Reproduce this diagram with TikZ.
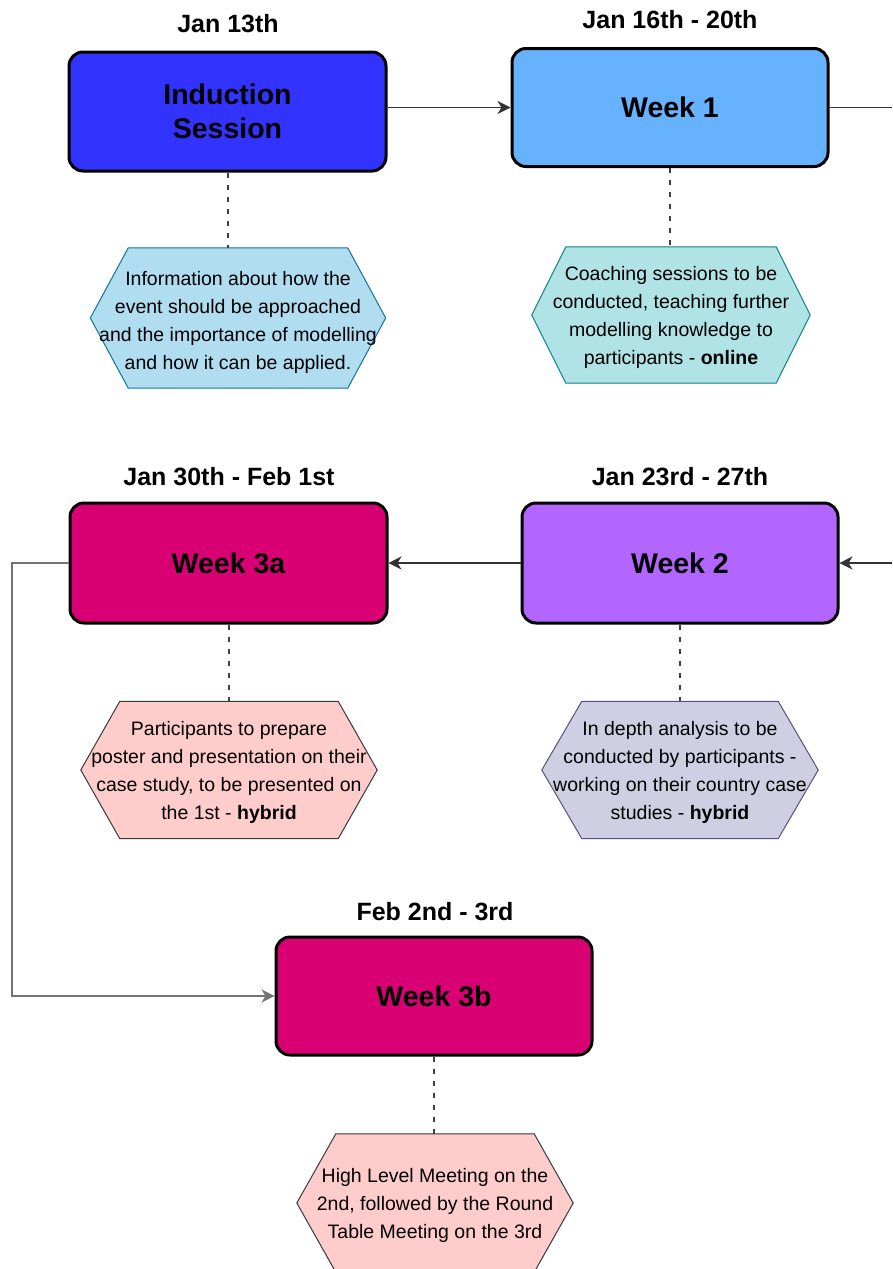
\documentclass[tikz,border=0pt]{standalone}
\usepackage{fontspec}
\setmainfont{Liberation Sans}
\usetikzlibrary{arrows.meta,calc}
\definecolor{cInd}{HTML}{3333FF}
\definecolor{cWone}{HTML}{66B2FF}
\definecolor{cWtwo}{HTML}{B266FF}
\definecolor{cWthree}{HTML}{D80073}
\definecolor{hexA}{HTML}{B1DDF0}
\definecolor{hexAd}{HTML}{10739E}
\definecolor{hexB}{HTML}{B0E3E6}
\definecolor{hexBd}{HTML}{0E8088}
\definecolor{hexC}{HTML}{FFCCCC}
\definecolor{hexCd}{HTML}{36393D}
\definecolor{hexD}{HTML}{D0CEE2}
\definecolor{hexDd}{HTML}{56517E}
\definecolor{lineC}{HTML}{333333}
\newcommand\hexpath[3]{%
  \draw[#3] (#1.north west) -- (#1.north east) -- ($(#1.east)+(#2,0)$) -- (#1.south east) -- (#1.south west) -- ($(#1.west)-(#2,0)$) -- cycle;}
\begin{document}
\begin{tikzpicture}[x=1pt,y=-1pt,
  box/.style={draw=black, line width=3pt, rounded corners=14pt, minimum width=316pt, minimum height=118pt, inner sep=0pt, align=center, font=\fontsize{28.5}{34}\selectfont\bfseries},
  datelbl/.style={inner sep=0pt, font=\fontsize{25}{30}\selectfont\bfseries},
  hexshape/.style={draw=none, inner sep=0pt},
  hextxt/.style={inner sep=0pt, align=center, font=\fontsize{19.5}{28}\selectfont},
  conn/.style={draw=lineC, line width=1.5pt, -{Stealth[length=13pt,width=13pt,inset=4pt]}},
  loopconn/.style={draw=black!55, line width=1.3pt, -{Stealth[length=13pt,width=13pt,inset=4pt]}},
  dashconn/.style={draw=black!75, line width=2pt, dash pattern=on 5pt off 7pt},
  hexline/.style={line width=1pt},
]
\path[use as bounding box] (0,0) rectangle (892,1269);
\clip (0,0) rectangle (892,1269);

% main boxes
\node[box, fill=cInd, minimum width=317pt, minimum height=119pt] (ind) at (227.5,111.5) {Induction\\Session};
\node[box, fill=cWone] (w1) at (670,107.5) {Week 1};
\node[box, fill=cWthree, minimum width=317pt, minimum height=120pt] (w3a) at (228.5,563) {Week 3a};
\node[box, fill=cWtwo, minimum height=120pt] (w2) at (680,563) {Week 2};
\node[box, fill=cWthree] (w3b) at (434,996) {Week 3b};

% date labels
\node[datelbl] (d1) at (228,24) {Jan 13th};
\node[datelbl] (d2) at (670,20) {Jan 16th - 20th};
\node[datelbl] (d3) at (229,477) {Jan 30th - Feb 1st};
\node[datelbl] (d4) at (680,477) {Jan 23rd - 27th};
\node[datelbl] (d5) at (435,912) {Feb 2nd - 3rd};

% hexagons
\node[hexshape, minimum width=219pt, minimum height=140pt] (h1) at (238,318) {};
\hexpath{h1}{38}{hexline, fill=hexA, draw=hexAd}
\node[hextxt] (h1t) at ($(h1)+(0,4)$) {Information about how the\\event should be approached\\and the importance of modelling\\and how it can be applied.};

\node[hexshape, minimum width=210pt, minimum height=136pt] (h2) at (671,315) {};
\hexpath{h2}{34}{hexline, fill=hexB, draw=hexBd}
\node[hextxt] (h2t) at ($(h2)+(0,2)$) {Coaching sessions to be\\conducted, teaching further\\modelling knowledge to\\participants - \textbf{online}};

\node[hexshape, minimum width=218pt, minimum height=137pt] (h3) at (229,770) {};
\hexpath{h3}{39}{hexline, fill=hexC, draw=hexCd}
\node[hextxt] (h3t) at ($(h3)+(0,2)$) {Participants to prepare\\poster and presentation on their\\case study, to be presented on\\the 1st - \textbf{hybrid}};

\node[hexshape, minimum width=196pt, minimum height=137pt] (h4) at (680,770) {};
\hexpath{h4}{40}{hexline, fill=hexD, draw=hexDd}
\node[hextxt] (h4t) at ($(h4)+(0,2)$) {In depth analysis to be\\conducted by participants -\\working on their country case\\studies - \textbf{hybrid}};

\node[hexshape, minimum width=198pt, minimum height=138pt] (h5) at (435,1203) {};
\hexpath{h5}{39}{hexline, fill=hexC, draw=hexCd}
\node[hextxt] (h5t) at ($(h5)+(0,2)$) {High Level Meeting on the\\2nd, followed by the Round\\Table Meeting on the 3rd};

% dashed links
\draw[dashconn] (ind.south) -- (ind.south |- h1.north);
\draw[dashconn] (w1.south) -- (w1.south |- h2.north);
\draw[dashconn] (w3a.south) -- (w3a.south |- h3.north);
\draw[dashconn] (w2.south) -- (w2.south |- h4.north);
\draw[dashconn] (w3b.south) -- (w3b.south |- h5.north);

% flow connectors
\coordinate (offR) at (915,300);
\coordinate (offL) at (12,780);
\draw[conn] (ind.east |- w1.west) -- (w1.west);
\draw[conn] (w1.east) -| (offR) |- (w2.east);
\draw[conn] (w2.west) -- (w3a.east);
\draw[loopconn] (w3a.west) -| (offL) |- (w3b.west);
\end{tikzpicture}
\end{document}
